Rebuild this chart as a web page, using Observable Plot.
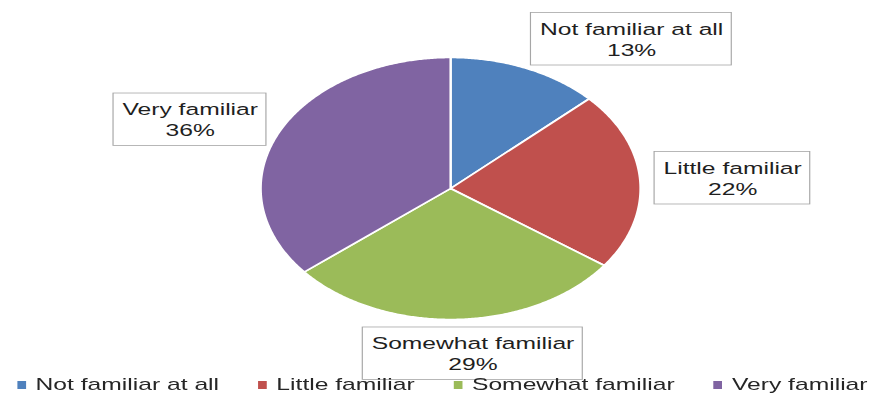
<!DOCTYPE html>
<html><head><meta charset="utf-8">
<script src="https://cdn.jsdelivr.net/npm/d3@7"></script>
<script src="https://cdn.jsdelivr.net/npm/@observablehq/plot@0.6"></script>
<style>
html,body{margin:0;padding:0;background:#fff;overflow:hidden}
#wrap{position:relative;width:607px;height:394px;transform:scaleX(1.4498);transform-origin:0 0;font-family:"Liberation Sans",Arial,sans-serif}
#legend{position:absolute;left:12px;top:375px;display:flex;gap:27px;font-size:17px;line-height:20px;color:#262626;white-space:nowrap}
.item{display:flex;align-items:center;gap:7px}
.sw{width:5.5px;height:8px;display:inline-block}
</style></head><body><div id="wrap"></div>
<script>
const categories = ["Not familiar at all", "Little familiar", "Somewhat familiar", "Very familiar"];
const shares = [13, 22, 29, 36];
const colors = ["#4F81BD", "#C0504D", "#9BBB59", "#8064A2"];

const layout = {
  cx: 310.3, cy: 188, r: 131,
  labelX: [0.953, 1.485, 0.118, -1.371],
  labelY: [1.145, 0.084, -1.256, 0.53]
};

const total = d3.sum(shares);
let acc = 0;
const wedgePts = [];
categories.forEach((c, i) => {
  const a0 = acc / total * 2 * Math.PI; acc += shares[i];
  const a1 = acc / total * 2 * Math.PI;
  wedgePts.push({c, x: 0, y: 0});
  const n = Math.max(2, Math.ceil((a1 - a0) / (Math.PI / 360)));
  for (let k = 0; k <= n; k++) {
    const a = a0 + (a1 - a0) * k / n;
    wedgePts.push({c, x: Math.sin(a), y: Math.cos(a)});
  }
  wedgePts.push({c, x: 0, y: 0});
});

const labels = categories.map((c, i) => ({
  text: `${c}\n${shares[i]}%`, x: layout.labelX[i], y: layout.labelY[i]
}));

const {cx, cy, r} = layout;
const chart = Plot.plot({
  width: 607, height: 394, margin: 0,
  x: {domain: [-1, 1], range: [cx - r, cx + r], axis: null},
  y: {domain: [-1, 1], range: [cy + r, cy - r], axis: null},
  color: {domain: categories, range: colors},
  style: {fontFamily: "'Liberation Sans', Arial, sans-serif", fontSize: "17px", background: "white", overflow: "visible"},
  marks: [
    Plot.line(wedgePts, {x: "x", y: "y", z: "c", fill: "c", stroke: "white", strokeWidth: 1.6, strokeLinejoin: "round"}),
    Plot.text(labels, {x: "x", y: "y", text: "text", fill: "#1f1f1f", fontSize: 17, lineHeight: 1.24})
  ]
});
const wrap = document.getElementById("wrap");
wrap.appendChild(chart);

// boxes behind data labels
const tg = chart.querySelector('g[aria-label="text"]');
if (tg) {
  const ns = "http://www.w3.org/2000/svg";
  const boxes = document.createElementNS(ns, "g");
  tg.querySelectorAll("text").forEach(t => {
    const b = t.getBBox();
    const tr = t.getAttribute("transform") || "";
    const rect = document.createElementNS(ns, "rect");
    rect.setAttribute("x", b.x - 6);
    rect.setAttribute("y", b.y - 6.5);
    rect.setAttribute("width", b.width + 12);
    rect.setAttribute("height", b.height + 13);
    rect.setAttribute("fill", "white");
    rect.setAttribute("stroke", "#a6a6a6");
    rect.setAttribute("stroke-width", 0.8);
    if (tr) rect.setAttribute("transform", tr);
    boxes.appendChild(rect);
  });
  tg.parentNode.insertBefore(boxes, tg);
}

// legend
const legend = document.createElement("div");
legend.id = "legend";
categories.forEach((c, i) => {
  const item = document.createElement("div");
  item.className = "item";
  const sw = document.createElement("span");
  sw.className = "sw"; sw.style.background = colors[i];
  const tx = document.createElement("span");
  tx.textContent = c;
  item.appendChild(sw); item.appendChild(tx);
  legend.appendChild(item);
});
wrap.appendChild(legend);
</script></body></html>
